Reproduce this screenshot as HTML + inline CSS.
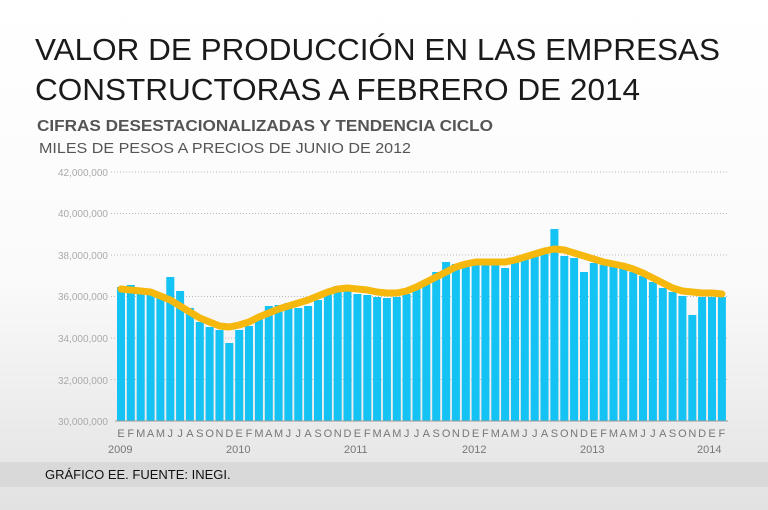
<!DOCTYPE html>
<html><head><meta charset="utf-8"><style>
html,body{margin:0;padding:0;}
body{width:768px;height:510px;overflow:hidden;background:linear-gradient(#fff 0px,#fff 300px,#e4e4e4 510px);}
svg{display:block;font-family:"Liberation Sans",sans-serif;}
</style></head><body>
<svg width="768" height="510" viewBox="0 0 768 510" xmlns="http://www.w3.org/2000/svg">
<defs><linearGradient id="bg" x1="0" y1="0" x2="0" y2="1"><stop offset="0" stop-color="#fff"/><stop offset="0.55" stop-color="#fafafa"/><stop offset="1" stop-color="#e2e2e2"/></linearGradient></defs>
<rect width="768" height="510" fill="url(#bg)"/>
<text x="35" y="60" font-size="31" fill="#1a1a1a" textLength="685" lengthAdjust="spacingAndGlyphs">VALOR DE PRODUCCIÓN EN LAS EMPRESAS</text>
<text x="35" y="100" font-size="31" fill="#1a1a1a" textLength="605" lengthAdjust="spacingAndGlyphs">CONSTRUCTORAS A FEBRERO DE 2014</text>
<text x="37" y="131" font-size="16" font-weight="bold" fill="#555" textLength="456" lengthAdjust="spacingAndGlyphs">CIFRAS DESESTACIONALIZADAS Y TENDENCIA CICLO</text>
<text x="39" y="153" font-size="15" fill="#555" textLength="372" lengthAdjust="spacingAndGlyphs">MILES DE PESOS A PRECIOS DE JUNIO DE 2012</text>
<g font-size="10" fill="#aaa" text-anchor="end">
<text x="108" y="176">42,000,000</text>
<text x="108" y="217">40,000,000</text>
<text x="108" y="259">38,000,000</text>
<text x="108" y="300">36,000,000</text>
<text x="108" y="342">34,000,000</text>
<text x="108" y="384">32,000,000</text>
<text x="108" y="425">30,000,000</text>
</g>
<g stroke="#bbb" stroke-width="1" stroke-dasharray="1,2">
<line x1="111" y1="172" x2="728" y2="172"/>
<line x1="111" y1="213.5" x2="728" y2="213.5"/>
<line x1="111" y1="255" x2="728" y2="255"/>
<line x1="111" y1="296.5" x2="728" y2="296.5"/>
<line x1="111" y1="338" x2="728" y2="338"/>
<line x1="111" y1="379.5" x2="728" y2="379.5"/>
</g>
<g id="bars" fill="#14c2f3"></g>
<line x1="115" y1="421" x2="728" y2="421" stroke="#999" stroke-width="1"/>
<polyline id="trend" fill="none" stroke="#f6b80c" stroke-width="7" stroke-linejoin="round" stroke-linecap="round"/>
<g id="months" font-size="11" fill="#777"></g>
<g font-size="11" fill="#777">
<text x="108" y="453">2009</text>
<text x="226" y="453">2010</text>
<text x="344" y="453">2011</text>
<text x="462" y="453">2012</text>
<text x="580" y="453">2013</text>
<text x="697" y="453">2014</text>
</g>
<rect x="0" y="462" width="768" height="25" fill="#d9d9d9"/>
<text x="45" y="479" font-size="13" fill="#111">GRÁFICO EE. FUENTE: INEGI.</text>
</svg>
<script>
var tops=[287,285,292,295,298,277,291,308,322,327,330,343,
330,326,318,306,305,303,308,306,300,294,286,289,
294,295,297,298,297,294,287,281,272,262,264,264,
265,264,264,268,262,257,253,252,229,256,258,272,
263,265,266,268,272,276,282,288,292,296,315,297,
297,297];
var trend=[289,290,291,292,296,300,306,312,318,322,326,327,
325,322,317,313,309,306,303,300,296,292,289,288,
289,290,292,293,293,291,287,282,277,272,267,264,
262,262,262,262,260,257,254,251,249,250,253,256,
259,262,264,266,269,273,278,283,288,291,292,293,293,294];
var ns="http://www.w3.org/2000/svg",g=document.getElementById('bars'),m=document.getElementById('months');
var L="EFMAMJJASOND",pts=[];
for(var i=0;i<62;i++){var x=117+i*9.85;var r=document.createElementNS(ns,'rect');
r.setAttribute('x',x.toFixed(1));r.setAttribute('y',tops[i]);r.setAttribute('width',8);r.setAttribute('height',421-tops[i]);g.appendChild(r);
pts.push((x+4).toFixed(1)+','+trend[i]);
var t=document.createElementNS(ns,'text');t.setAttribute('x',(x+4).toFixed(1));t.setAttribute('y',437);t.setAttribute('text-anchor','middle');t.textContent=L[i%12];m.appendChild(t);}
document.getElementById('trend').setAttribute('points',pts.join(' '));
</script>
</body></html>
